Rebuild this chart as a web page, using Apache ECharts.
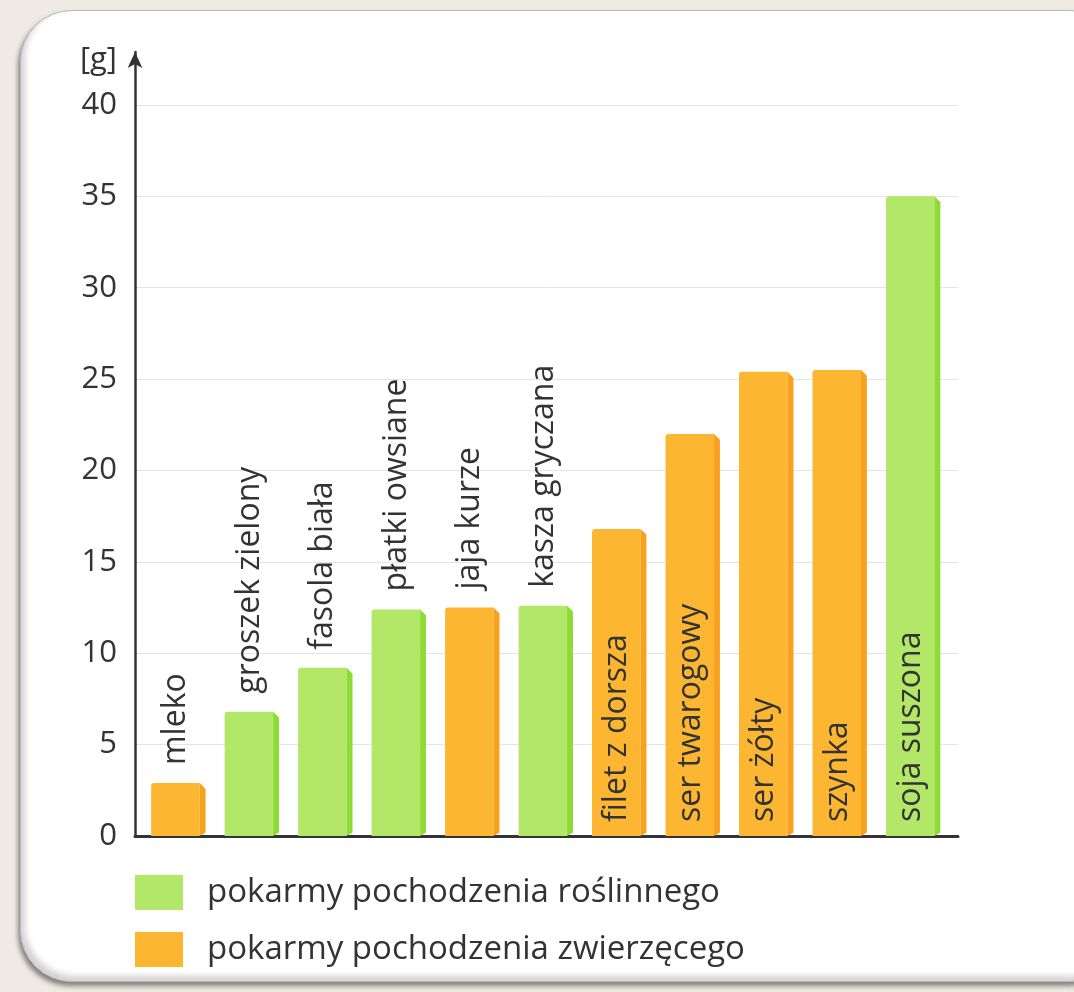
<!DOCTYPE html>
<html><head><meta charset="utf-8">
<script src="https://cdn.jsdelivr.net/npm/echarts@6/dist/echarts.min.js"></script>
<style>
html,body{margin:0;padding:0;width:1074px;height:992px;overflow:hidden;background:#efebe4;}
#panel{position:absolute;left:20px;top:10px;width:1100px;height:970px;border-radius:52px;background:#fff;
  border:1px solid #b9b9b9;box-shadow:-2px 4px 5px rgba(0,0,0,0.45), inset 4px -5px 6px rgba(0,0,0,0.18);}
#chart{position:absolute;left:0;top:0;width:1074px;height:992px;}
</style></head>
<body><div id="panel"></div><div id="chart"></div>
<script>
const categories = ['mleko','groszek zielony','fasola biała','płatki owsiane','jaja kurze','kasza gryczana','filet z dorsza','ser twarogowy','ser żółty','szynka','soja suszona'];
const values = [2.9, 6.8, 9.2, 12.4, 12.5, 12.6, 16.8, 22.0, 25.4, 25.5, 35.0];
const origin = ['z','r','r','r','z','r','z','z','z','z','r'];
const seriesNames = {r:'pokarmy pochodzenia roślinnego', z:'pokarmy pochodzenia zwierzęcego'};
const yAxisName = '[g]';

const colors = {r:{body:'#b2e768', side:'#8edb36'}, z:{body:'#fdb631', side:'#f8a11c'}};
const FONT = '"Open Sans", sans-serif';
const TXT = '#333333';

function makeRender(key){
  return function(params, api){
    const i = api.value(0), v = api.value(1);
    const top = api.coord([i, v]);
    const base = api.coord([i, 0]);
    const band = api.size([1, 0])[0];
    const bodyW = band * 0.66, sideW = band * 0.08;
    const left = top[0] - (bodyW + sideW) / 2;
    const r = left + bodyW;
    const inside = v >= 15;
    const c = colors[key];
    return {
      type: 'group',
      children: [
        {type:'rect', shape:{x:left, y:top[1], width:bodyW, height:base[1]-top[1], r:[3,0,0,0]}, style:{fill:c.body}},
        {type:'polygon', shape:{points:[[r, top[1]],[r+sideW, top[1]+sideW],[r+sideW, base[1]-sideW*0.6],[r, base[1]]]}, style:{fill:c.side}},
        {type:'text', x: top[0]-2, y: inside ? base[1]-14 : top[1]-18, rotation: Math.PI/2,
          style:{text: categories[i], fill:TXT, fontSize:32, fontFamily:FONT, align:'left', verticalAlign:'middle'}}
      ]
    };
  };
}

function seriesFor(key){
  const data = [];
  values.forEach((v, i) => { if (origin[i] === key) data.push([i, v]); });
  return {
    name: seriesNames[key], type:'custom', renderItem: makeRender(key),
    encode:{x:0, y:1}, data: data, itemStyle:{color: colors[key].body}
  };
}

const chart = echarts.init(document.getElementById('chart'), null, {renderer:'canvas'});
chart.setOption({
  animation:false,
  backgroundColor:'transparent',
  grid:{left:135, right:116, top:52, bottom:156, containLabel:false},
  xAxis:{type:'value', min:-0.59, max:10.61,
    axisLine:{show:true, onZero:false, lineStyle:{color:'#333', width:3}},
    axisTick:{show:false}, axisLabel:{show:false}, splitLine:{show:false}},
  yAxis:{type:'value', min:0, max:42.9, interval:5,
    name: yAxisName, nameLocation:'end', nameGap:-8,
    nameTextStyle:{fontSize:31, color:TXT, fontFamily:FONT, align:'right', verticalAlign:'middle', padding:[0,18,0,0]},
    axisLine:{show:true, onZero:false, symbol:['none','arrow'], symbolSize:[11,16], lineStyle:{color:'#333', width:2.5}},
    axisTick:{show:false},
    axisLabel:{fontSize:31, color:TXT, fontFamily:FONT, margin:18, showMaxLabel:false,
      formatter: v => (Math.abs(v % 5) < 1e-9 ? String(v) : '')},
    splitLine:{show:true, showMaxLine:false, lineStyle:{color:'#e4e4e4', width:1}}},
  legend:{orient:'vertical', left:135, top:875, padding:0, itemWidth:48, itemHeight:35, itemGap:22, icon:'rect',
    selectedMode:false, data:[seriesNames.r, seriesNames.z],
    textStyle:{fontSize:33, color:TXT, fontFamily:FONT, padding:[0,0,0,19]}},
  series:[seriesFor('r'), seriesFor('z')]
});
</script>
</body></html>
